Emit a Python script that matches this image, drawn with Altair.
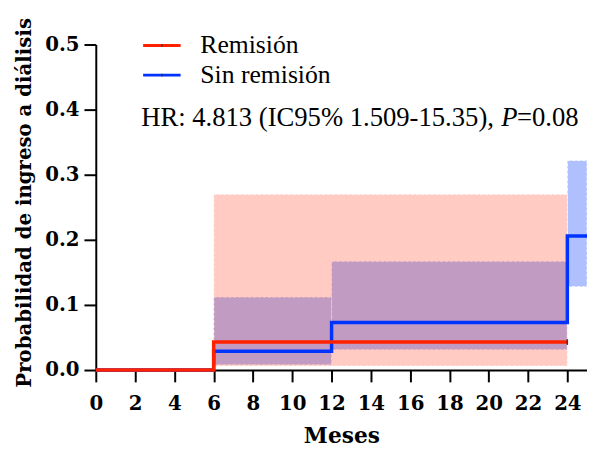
import altair as alt
import pandas as pd

# ---------------- data ----------------
series = ["Remisión", "Sin remisión"]
line_colors = ["#FF2200", "#0033FF"]

rem_t = [0, 6, 24]
rem_p = [0.0, 0.043, 0.043]
sin_t = [0, 6, 12, 24, 25]
sin_p = [0.0, 0.029, 0.073, 0.206, 0.206]

rem_ci_start = [6]
rem_ci_end = [24]
rem_ci_low = [0.006]
rem_ci_high = [0.27]

sin_ci_start = [6, 12, 24]
sin_ci_end = [12, 24, 25]
sin_ci_low = [0.008, 0.031, 0.128]
sin_ci_high = [0.112, 0.167, 0.322]

censor_t = [24]
censor_p = [0.043]

x_ticks = list(range(0, 25, 2))
y_ticks = [0.0, 0.1, 0.2, 0.3, 0.4, 0.5]
hr_parts = ["HR: 4.813 (IC95% 1.509-15.35),", "P", "=0.08"]
x_title = "Meses"
y_title = "Probabilidad de ingreso a diálisis"

SERIF = "Liberation Serif"
BOLD_SERIF = "DejaVu Serif"

# ---------------- scales / axes ----------------
xscale = alt.Scale(domain=[0, 25], nice=False, zero=False)
yscale = alt.Scale(domain=[0, 0.5], nice=False)

x_axis = alt.Axis(values=x_ticks, title=x_title, format="d", labelPadding=12,
                  labelFlush=False, labelOverlap=False,
                  titleX=249, titleY=73, titleBaseline="alphabetic",
                  titleAnchor="middle", titleFontSize=22)
y_axis = alt.Axis(values=y_ticks, title=y_title, format=".1f", labelPadding=5,
                  labelFlush=False, labelOverlap=False,
                  titleX=-66, titleY=160, titleBaseline="alphabetic",
                  titleAngle=270, titleAlign="center", titleFontSize=20)


def X(f):
    return alt.X(f, type="quantitative", scale=xscale, axis=x_axis, title=x_title)


def Y(f):
    return alt.Y(f, type="quantitative", scale=yscale, axis=y_axis, title=y_title)


band_rem = pd.DataFrame({"s": rem_ci_start, "e": rem_ci_end, "lo": rem_ci_low, "hi": rem_ci_high})
band_sin = pd.DataFrame({"s": sin_ci_start, "e": sin_ci_end, "lo": sin_ci_low, "hi": sin_ci_high})
line_rem = pd.DataFrame({"t": rem_t, "p": rem_p})
line_sin = pd.DataFrame({"t": sin_t, "p": sin_p})
cens = pd.DataFrame({"t": censor_t, "p": censor_p})


def band(df, color, op):
    return alt.Chart(df).mark_rect(
        clip=True, color=color, fillOpacity=op, stroke="white",
        strokeOpacity=0.9, strokeWidth=1, strokeDash=[3, 2]
    ).encode(x=X("s"), x2="e:Q", y=Y("lo"), y2="hi:Q")


def step(df, color):
    return alt.Chart(df).mark_line(
        clip=False, interpolate="step-after", color=color, strokeWidth=3.5
    ).encode(x=X("t"), y=Y("p"))


layers = [
    band(band_sin, "#0033FF", 0.31),
    band(band_rem, "#FF2200", 0.235),
    step(line_sin, line_colors[1]),
    step(line_rem, line_colors[0]),
    alt.Chart(cens).mark_tick(color="black", thickness=1.5, size=6, orient="vertical").encode(
        x=X("t"), y=Y("p")),
]

# manual legend
for i, name in enumerate(series):
    d = pd.DataFrame({"name": [name]})
    yy = 1 + 30 * i
    layers.append(alt.Chart(d).mark_rule(color=line_colors[i], strokeWidth=3).encode(
        x=alt.value(48), x2=alt.value(86), y=alt.value(yy)))
    layers.append(alt.Chart(d).mark_rule(color="#333333", strokeWidth=1.2).encode(
        x=alt.value(67), y=alt.value(yy - 1.5), y2=alt.value(yy + 1.5)))
    layers.append(alt.Chart(d).mark_text(
        align="left", baseline="alphabetic", font=SERIF, fontSize=26, color="black"
    ).encode(x=alt.value(106), y=alt.value(yy + 8), text="name:N"))

hr_x = [46, 411, 427]
hr_style = ["normal", "italic", "normal"]
for txt, xx, st in zip(hr_parts, hr_x, hr_style):
    d = pd.DataFrame({"txt": [txt]})
    layers.append(alt.Chart(d).mark_text(
        align="left", baseline="alphabetic", font=SERIF, fontSize=27,
        fontStyle=st, color="black"
    ).encode(x=alt.value(xx), y=alt.value(83), text="txt:N"))

chart = alt.layer(*layers).properties(
    width=498, height=330,
    autosize=alt.AutoSizeParams(type="none"),
    padding={"left": 89, "top": 34, "right": 0, "bottom": 75},
).configure_view(stroke=None).configure_axis(
    grid=False,
    labelFont=BOLD_SERIF, labelFontWeight="bold", labelFontSize=20, labelColor="black",
    titleFont=BOLD_SERIF, titleFontWeight="bold", titleColor="black",
    domainColor="black", domainWidth=2, tickColor="black", tickWidth=2, tickSize=12,
)

chart.save("out.html", embed_options={"renderer": "svg", "actions": False})
